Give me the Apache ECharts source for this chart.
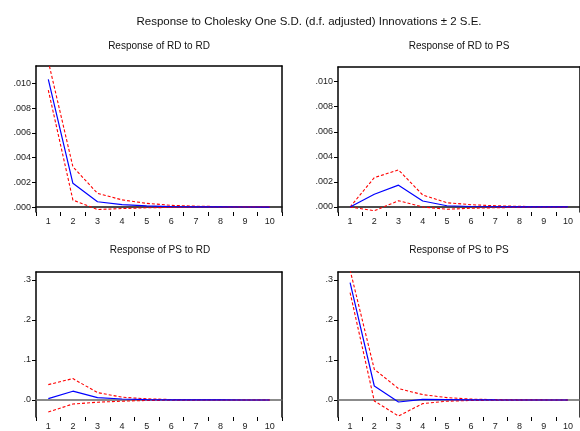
<!DOCTYPE html>
<html><head><meta charset="utf-8">
<script src="https://cdn.jsdelivr.net/npm/echarts@6/dist/echarts.min.js"></script>
<style>html,body{margin:0;padding:0;background:#fff}#c{width:580px;height:431px}</style>
</head><body><div id="c"></div>
<script>
const periods = ['1','2','3','4','5','6','7','8','9','10'];

const rdRdResp = [0.01034, 0.00192, 0.00043, 0.00020, 0.00010, 0.00004, 0.00002, 0.00001, 0.000005, 0.000002];
const rdRdUp   = [0.0118, 0.00326, 0.00111, 0.00058, 0.00030, 0.00014, 0.00007, 0.00004, 0.00002, 0.00001];
const rdRdLo   = [0.00947, 0.00057, -0.00020, -0.00012, -0.00006, -0.00003, -0.00002, -0.00001, -0.000005, -0.000002];

const rdPsResp = [0, 0.00102, 0.00174, 0.00048, 0.00010, 0.00004, 0.00002, 0.00001, 0.000005, 0.000002];
const rdPsUp   = [0, 0.00234, 0.00296, 0.00096, 0.00034, 0.00018, 0.00010, 0.00005, 0.00003, 0.00002];
const rdPsLo   = [0, -0.00030, 0.00050, 0.00000, -0.00018, -0.00010, -0.00006, -0.00003, -0.00002, -0.00001];

const psRdResp = [0.0035, 0.022, 0.006, 0.0025, 0.001, 0.0004, 0.0002, 0.0001, 0.00005, 0.00002];
const psRdUp   = [0.0385, 0.0535, 0.0185, 0.0070, 0.0030, 0.0012, 0.0005, 0.0002, 0.0001, 0.00005];
const psRdLo   = [-0.030, -0.010, -0.0055, -0.0030, -0.0012, -0.0005, -0.0002, -0.0001, -0.00005, -0.00002];

const psPsResp = [0.2935, 0.035, -0.005, 0.0015, 0.001, 0.0003, 0.0001, 0.00005, 0.00002, 0.00001];
const psPsUp   = [0.325, 0.0767, 0.0285, 0.0135, 0.0060, 0.0022, 0.0009, 0.0004, 0.0002, 0.0001];
const psPsLo   = [0.2685, -0.0025, -0.040, -0.009, -0.003, -0.0012, -0.0005, -0.0002, -0.0001, -0.00005];

const smallTicks = [0, 0.002, 0.004, 0.006, 0.008, 0.010];
const bigTicks = [0, 0.1, 0.2, 0.3];

const mainTitle = 'Response to Cholesky One S.D. (d.f. adjusted) Innovations \u00b1 2 S.E.';
const panelTitles = ['Response of RD to RD', 'Response of RD to PS', 'Response of PS to RD', 'Response of PS to PS'];

const panels = [
  {resp: rdRdResp, up: rdRdUp, lo: rdRdLo, ticks: smallTicks, dec: 3, min: -0.0004, max: 0.01142,
   grid: {left: 36, top: 66, width: 246, height: 146}, title: [159, 46], zero: '#111'},
  {resp: rdPsResp, up: rdPsUp, lo: rdPsLo, ticks: smallTicks, dec: 3, min: -0.0004, max: 0.01117,
   grid: {left: 338, top: 67, width: 245.5, height: 145}, title: [459, 46], zero: '#111'},
  {resp: psRdResp, up: psRdUp, lo: psRdLo, ticks: bigTicks, dec: 1, min: -0.0425, max: 0.32,
   grid: {left: 36, top: 272, width: 246, height: 145}, title: [160, 250], zero: '#666'},
  {resp: psPsResp, up: psPsUp, lo: psPsLo, ticks: bigTicks, dec: 1, min: -0.0425, max: 0.32,
   grid: {left: 338, top: 272, width: 245.5, height: 145}, title: [459, 250], zero: '#666'}
];

const font = 'Liberation Sans, Arial, sans-serif';
const grids = [], xAxes = [], yAxes = [], series = [], texts = [];
const borderStyle = {color: '#000', width: 1.5};

panels.forEach((p, i) => {
  grids.push(Object.assign({containLabel: false}, p.grid));
  const fmt = v => {
    let s = Math.abs(v).toFixed(p.dec).replace(/^0/, '');
    return (v < 0 ? '-' : '') + s;
  };
  // bottom x axis: ticks + labels only
  xAxes.push({type: 'category', gridIndex: i, data: periods, position: 'bottom', boundaryGap: true,
    axisLine: {show: false, onZero: false},
    axisTick: {show: true, length: 4, lineStyle: {color: '#000', width: 1}},
    axisLabel: {show: true, fontSize: 9, color: '#222', fontFamily: font, margin: 5, interval: 0},
    splitLine: {show: false}});
  // top border
  xAxes.push({type: 'category', gridIndex: i, data: periods, position: 'top', boundaryGap: true,
    axisLine: {show: true, onZero: false, lineStyle: borderStyle},
    axisTick: {show: false}, axisLabel: {show: false}, splitLine: {show: false}});
  // zero line
  xAxes.push({type: 'category', gridIndex: i, data: periods, position: 'bottom', boundaryGap: true,
    axisLine: {show: true, onZero: true, onZeroAxisIndex: i * 2, lineStyle: {color: p.zero, width: 1.5}},
    axisTick: {show: false}, axisLabel: {show: false}, splitLine: {show: false}, z: 1});
  // left y axis
  yAxes.push({type: 'value', gridIndex: i, min: p.min, max: p.max, position: 'left',
    axisLine: {show: true, onZero: false, lineStyle: borderStyle},
    axisTick: {show: true, length: 4, customValues: p.ticks, lineStyle: {color: '#000', width: 1}},
    axisLabel: {show: true, customValues: p.ticks, formatter: fmt, fontSize: 9, color: '#222', fontFamily: font, margin: 5},
    splitLine: {show: false}});
  // right border
  yAxes.push({type: 'value', gridIndex: i, min: p.min, max: p.max, position: 'right',
    axisLine: {show: true, onZero: false, lineStyle: borderStyle},
    axisTick: {show: false}, axisLabel: {show: false}, splitLine: {show: false}});

  const xi = i * 3, yi = i * 2;
  series.push({type: 'line', xAxisIndex: xi, yAxisIndex: yi, data: p.up, symbol: 'none', silent: true,
    lineStyle: {color: '#ff0000', width: 1.1, type: [3, 2]}, z: 3});
  series.push({type: 'line', xAxisIndex: xi, yAxisIndex: yi, data: p.lo, symbol: 'none', silent: true,
    lineStyle: {color: '#ff0000', width: 1.1, type: [3, 2]}, z: 3});
  series.push({type: 'line', xAxisIndex: xi, yAxisIndex: yi, data: p.resp, symbol: 'none', silent: true,
    lineStyle: {color: '#0000ff', width: 1.2}, z: 4});

  texts.push({type: 'text', left: p.title[0], top: p.title[1], style: {
    text: panelTitles[i], font: '10px ' + font, fill: '#111', textAlign: 'center', textVerticalAlign: 'middle'}});
});

texts.push({type: 'text', left: 309, top: 22, style: {
  text: mainTitle, font: '11.5px ' + font, fill: '#111', textAlign: 'center', textVerticalAlign: 'middle'}});

const chart = echarts.init(document.getElementById('c'), null, {renderer: 'canvas'});
chart.setOption({
  animation: false,
  grid: grids, xAxis: xAxes, yAxis: yAxes, series: series,
  graphic: texts.map(t => ({type: 'text', x: t.left, y: t.top, style: t.style}))
});
</script></body></html>
